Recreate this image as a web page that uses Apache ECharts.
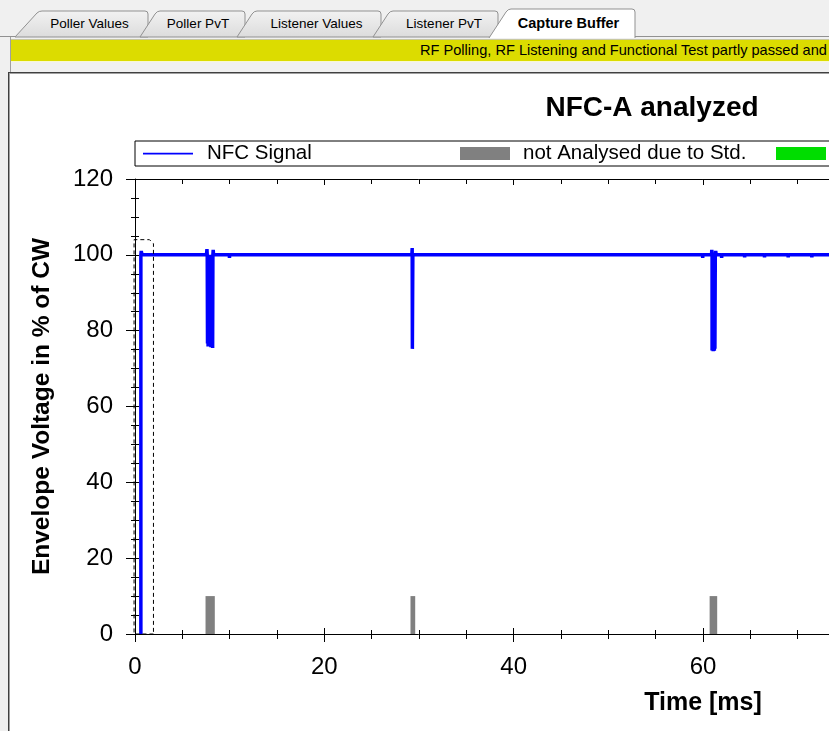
<!DOCTYPE html>
<html><head><meta charset="utf-8">
<script src="https://cdn.jsdelivr.net/npm/echarts@6/dist/echarts.min.js"></script>
<style>
html,body{margin:0;padding:0;width:829px;height:731px;overflow:hidden;background:#f0f0f0;font-family:"Liberation Sans",Arial,sans-serif;}
#tabs{position:absolute;left:0;top:0;}
#frame{position:absolute;left:10px;top:37px;width:1400px;height:40px;border-left:1px solid #a0a0a0;}
#bar{position:absolute;left:11px;top:39px;width:1400px;height:23px;background:#dcdc00;border-top:1px solid #c8c8a0;border-bottom:1px solid #f8f8d0;box-sizing:border-box;white-space:nowrap;font-size:14.6px;line-height:21px;color:#000;padding-left:409px;}
#panel{position:absolute;left:8px;top:72px;width:1400px;height:700px;background:#fff;border-left:1px solid #404040;border-top:1px solid #404040;box-shadow:inset 1px 1px 0 #a0a0a0;}
#chart{position:absolute;left:10px;top:74px;width:1284px;height:657px;}
</style></head>
<body>
<svg id="tabs" width="829" height="38" xmlns="http://www.w3.org/2000/svg">
<defs><linearGradient id="g" x1="0" y1="0" x2="0" y2="1"><stop offset="0" stop-color="#f2f2f2"/><stop offset="1" stop-color="#dcdcdc"/></linearGradient></defs>
<line x1="0" y1="36.5" x2="829" y2="36.5" stroke="#919191"/>
<path d="M15,37 L37,13 Q39,11 42,11 L145,11 Q148,11 148,14 L148,37 Z" fill="url(#g)" stroke="#919191"/>
<path d="M140,37 L155,14 Q157,11 160,11 L242,11 Q245,11 245,14 L245,37 Z" fill="url(#g)" stroke="#919191"/>
<path d="M237,37 L252,14 Q254,11 257,11 L378,11 Q381,11 381,14 L381,37 Z" fill="url(#g)" stroke="#919191"/>
<path d="M373,37 L388,14 Q390,11 393,11 L495,11 Q498,11 498,14 L498,37 Z" fill="url(#g)" stroke="#919191"/>
<path d="M489,38 L506,12 Q508,9 511,9 L632,9 Q635,9 635,12 L635,38" fill="#ffffff" stroke="#919191"/>
<g font-family="Liberation Sans, Arial, sans-serif" font-size="13.5" fill="#000" text-anchor="middle">
<text x="89.5" y="28">Poller Values</text>
<text x="198" y="28">Poller PvT</text>
<text x="316.5" y="28">Listener Values</text>
<text x="444" y="28">Listener PvT</text>
<text x="568.5" y="28" font-weight="bold" font-size="14.5">Capture Buffer</text>
</g>
</svg>
<div id="frame"></div>
<div id="bar">RF Polling, RF Listening and Functional Test partly passed and partly failed</div>
<div id="panel"></div>
<div id="chart"></div>
<script>
// ---- data ----
const chartTitle = 'NFC-A analyzed';
const xName = 'Time [ms]';
const yName = 'Envelope Voltage in % of CW';
const seriesNames = ['NFC Signal', 'not Analysed due to Std.', 'Analysed'];
const xMin = 0, xMax = 120, xStep = 20;
const yMin = 0, yMax = 120, yStep = 20;
// NFC signal envelope [time ms, % of CW]
const signal = [
  [0.62,0],[0.62,100],[0.66,101],[0.75,100],
  [7.55,100],[7.6,101.5],[7.63,100],
  [7.66,100],[7.66,76.6],[7.70,76.6],[7.70,100],
  [7.72,100],[7.72,75.8],[7.76,75.8],[7.76,100],
  [7.78,100],[7.78,76.9],[7.82,76.9],[7.82,100],
  [7.84,100],[7.84,76.3],[7.88,76.3],[7.88,100],
  [7.90,100],[7.90,77.0],[7.94,77.0],[7.94,100],
  [7.96,100],[7.96,76.4],[8.00,76.4],[8.00,100],
  [8.02,100],[8.02,75.6],[8.06,75.6],[8.06,100],
  [8.08,100],[8.08,76.7],[8.12,76.7],[8.12,100],
  [8.14,100],[8.14,76.2],[8.18,76.2],[8.18,100],
  [8.20,100],[8.20,75.4],[8.23,75.4],[8.23,100],
  [8.26,101.3],[8.3,100],
  [9.96,100],[9.98,99.2],[10.0,100],
  [29.25,100],[29.28,101.8],[29.3,75.2],[29.33,75.2],[29.35,100],
  [59.95,100],[59.97,99.2],[59.99,100],
  [60.9,100],[60.93,101.3],
  [60.96,100],[60.96,74.8],[61.00,74.8],[61.00,100],
  [61.02,100],[61.02,75.3],[61.06,75.3],[61.06,100],
  [61.08,100],[61.08,74.6],[61.12,74.6],[61.12,100],
  [61.14,100],[61.14,75.0],[61.18,75.0],[61.18,100],
  [61.20,100],[61.20,74.7],[61.24,74.7],[61.24,100],
  [61.26,100],[61.26,75.2],[61.30,75.2],[61.30,100],
  [61.34,101],[61.4,100],
  [61.95,100],[61.97,99.2],[61.99,100],
  [64.38,100],[64.40,99.3],[64.42,100],
  [66.48,100],[66.50,99.3],[66.52,100],
  [68.98,100],[69.00,99.3],[69.02,100],
  [71.48,100],[71.50,99.3],[71.52,100],
  [120,100]
];
// not analysed ranges [start ms, end ms, height %]
const notAnalysed = [[7.45,8.43,10],[29.1,29.6,10],[60.7,61.5,10]];
const analysed = [];
// dashed analysis frame [start ms, end ms, top %]
const frameBox = [[-0.1,1.95,104]];

// ---- chart ----
const FONT = '"Liberation Sans", Arial, sans-serif';
const chart = echarts.init(document.getElementById('chart'), null, {renderer:'canvas'});
function rectItem(fill){
  return function(params, api){
    const p0 = api.coord([api.value(0), api.value(2)]);
    const p1 = api.coord([api.value(1), 0]);
    return {type:'rect', shape:{x:p0[0], y:p0[1], width:p1[0]-p0[0], height:p1[1]-p0[1]}, style:{fill:fill}};
  };
}
const baseX = {type:'value', min:xMin, max:xMax, interval:xStep, splitLine:{show:false}};
const baseY = {type:'value', min:yMin, max:yMax, interval:yStep, splitLine:{show:false}};
const tickLine = {color:'#000', width:1};
const lineIcon = 'path://M0,0L0,0M0,13L0,13M0,5.8L50,5.8L50,7.4L0,7.4Z';
chart.setOption({
  animation:false,
  textStyle:{fontFamily:FONT},
  title:{text:chartTitle, left:'center', top:15, textStyle:{fontSize:28, fontWeight:'bold', color:'#000', fontFamily:FONT}},
  legend:{
    left:125, top:67, orient:'horizontal',
    padding:[2,40,2,8], itemGap:10, itemWidth:50, itemHeight:13,
    borderColor:'#000', borderWidth:1, backgroundColor:'#fff',
    textStyle:{fontSize:20.5, color:'#000', fontFamily:FONT, lineHeight:21},
    data:[
      {name:seriesNames[0], icon:lineIcon, itemStyle:{color:'#0000ff'}, textStyle:{width:243, padding:[0,0,0,9]}},
      {name:seriesNames[1], icon:'rect', textStyle:{width:243, padding:[0,0,0,8]}},
      {name:seriesNames[2], icon:'rect', textStyle:{width:150, padding:[0,0,0,8]}}
    ]
  },
  grid:{left:125, top:105, right:14, bottom:97, containLabel:false},
  xAxis:[
    Object.assign({}, baseX, {position:'bottom', axisLine:{show:true, onZero:false, lineStyle:tickLine},
      axisTick:{show:true, length:8, lineStyle:tickLine}, minorTick:{show:true, splitNumber:4, length:5, lineStyle:tickLine},
      axisLabel:{fontSize:24, color:'#000', margin:21, fontFamily:FONT},
      name:xName, nameLocation:'middle', nameGap:57, nameTextStyle:{fontSize:25, fontWeight:'bold', color:'#000', fontFamily:FONT}}),
    Object.assign({}, baseX, {position:'bottom', axisLine:{show:false}, axisLabel:{show:false},
      axisTick:{show:true, inside:true, length:6, lineStyle:tickLine}, minorTick:{show:true, splitNumber:4, length:4, lineStyle:tickLine}}),
    Object.assign({}, baseX, {position:'top', axisLine:{show:true, onZero:false, lineStyle:tickLine}, axisLabel:{show:false},
      axisTick:{show:true, inside:true, length:6, lineStyle:tickLine}, minorTick:{show:true, splitNumber:4, length:5, lineStyle:tickLine}})
  ],
  yAxis:[
    Object.assign({}, baseY, {position:'left', axisLine:{show:true, onZero:false, lineStyle:tickLine},
      axisTick:{show:true, length:9, lineStyle:tickLine}, minorTick:{show:true, splitNumber:4, length:4, lineStyle:tickLine},
      axisLabel:{fontSize:24, color:'#000', margin:22, fontFamily:FONT},
      name:yName, nameLocation:'middle', nameGap:80, nameTextStyle:{fontSize:24.5, fontWeight:'bold', color:'#000', fontFamily:FONT}}),
    Object.assign({}, baseY, {position:'left', axisLine:{show:false}, axisLabel:{show:false},
      axisTick:{show:true, inside:true, length:4, lineStyle:tickLine}, minorTick:{show:true, splitNumber:4, length:4, lineStyle:tickLine}}),
    Object.assign({}, baseY, {position:'right', axisLine:{show:true, onZero:false, lineStyle:tickLine}, axisLabel:{show:false},
      axisTick:{show:true, inside:true, length:6, lineStyle:tickLine}})
  ],
  series:[
    {name:seriesNames[1], type:'custom', xAxisIndex:0, yAxisIndex:0, data:notAnalysed, encode:{x:[0,1], y:2},
      itemStyle:{color:'#808080'}, renderItem:rectItem('#808080'), z:1},
    {name:seriesNames[2], type:'custom', xAxisIndex:0, yAxisIndex:0, data:analysed, encode:{x:[0,1], y:2},
      itemStyle:{color:'#00dd00'}, renderItem:rectItem('#00dd00'), z:1},
    {name:seriesNames[0], type:'line', xAxisIndex:0, yAxisIndex:0, data:signal, symbol:'none', showSymbol:false,
      lineStyle:{color:'#0000ff', width:3.5}, itemStyle:{color:'#0000ff'}, z:3},
    {name:'frame', type:'custom', xAxisIndex:0, yAxisIndex:0, data:frameBox, encode:{x:[0,1], y:2}, clip:false, z:4,
      renderItem:function(params, api){
        const a = api.coord([api.value(0), api.value(2)]);
        const b = api.coord([api.value(1), 0]);
        return {type:'polyline', shape:{points:[[b[0],b[1]],[a[0],b[1]],[a[0],a[1]],[b[0]-4,a[1]],[b[0],a[1]+4],[b[0],b[1]]]},
          style:{stroke:'#000', fill:null, lineWidth:1, lineDash:[4,3]}};
      }}
  ]
});
</script>
</body></html>
